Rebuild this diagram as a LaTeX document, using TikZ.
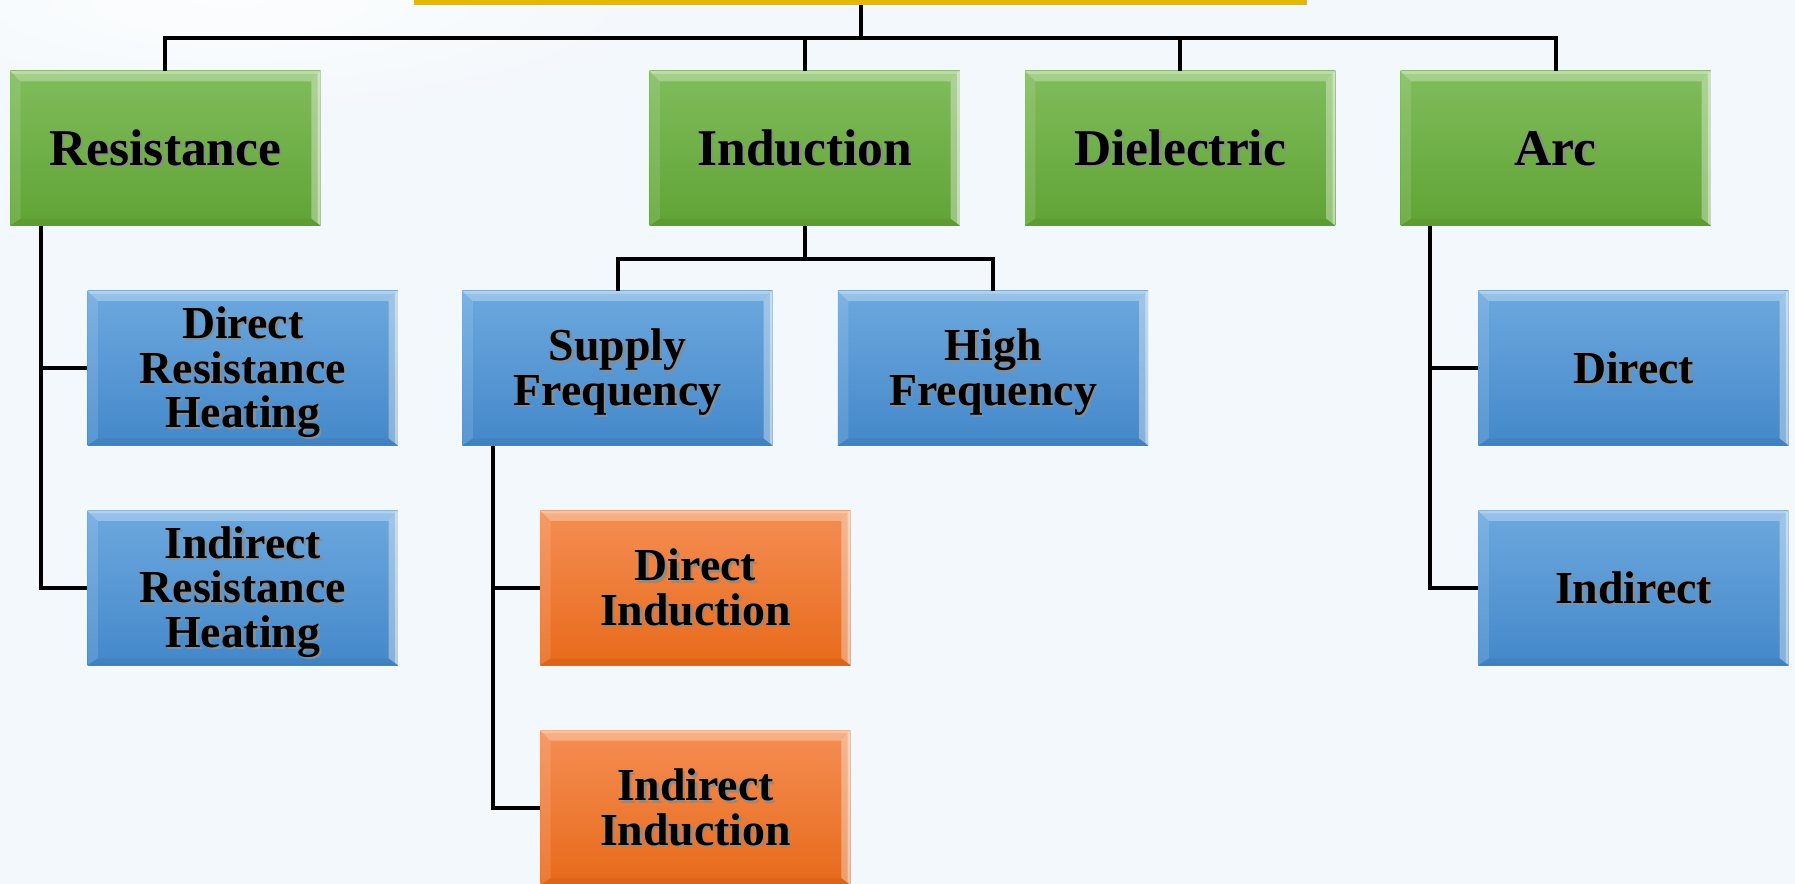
\documentclass[tikz,border=0pt]{standalone}
\usepackage{fontspec}
\setmainfont{Liberation Serif}
\usetikzlibrary{calc,shadings}
\definecolor{bgc}{RGB}{243,248,252}
\definecolor{gtop}{RGB}{128,188,92}
\definecolor{gbot}{RGB}{96,164,52}
\definecolor{btop}{RGB}{108,168,222}
\definecolor{bbot}{RGB}{68,136,202}
\definecolor{otop}{RGB}{244,142,84}
\definecolor{obot}{RGB}{232,106,26}
\definecolor{ycol}{RGB}{230,184,0}
\setlength{\lineskiplimit}{-100pt}
\newcommand\sh[1]{\leavevmode\rule[-0.25em]{0pt}{1.175em}\rlap{\kern2pt\raisebox{-2pt}{\textcolor{black!45}{#1}}}#1}
\tikzset{
  bevel/.style={path picture={
    \fill[white,opacity=0.3] (path picture bounding box.north west) -- (path picture bounding box.north east)
       -- ([shift={(-8pt,-9pt)}]path picture bounding box.north east) -- ([shift={(9pt,-9pt)}]path picture bounding box.north west) -- cycle;
    \fill[white,opacity=0.25] (path picture bounding box.north west) -- (path picture bounding box.north east)
       -- ([shift={(-2pt,-2.5pt)}]path picture bounding box.north east) -- ([shift={(2pt,-2.5pt)}]path picture bounding box.north west) -- cycle;
    \fill[white,opacity=0.12] (path picture bounding box.north west) -- ([shift={(9pt,-9pt)}]path picture bounding box.north west)
       -- ([shift={(9pt,6pt)}]path picture bounding box.south west) -- (path picture bounding box.south west) -- cycle;
    \fill[white,opacity=0.35] (path picture bounding box.north east) -- ([shift={(-8pt,-9pt)}]path picture bounding box.north east)
       -- ([shift={(-8pt,6pt)}]path picture bounding box.south east) -- (path picture bounding box.south east) -- cycle;
    \fill[white,opacity=0.4] (path picture bounding box.north east) -- ([shift={(-2.5pt,-2.5pt)}]path picture bounding box.north east)
       -- ([shift={(-2.5pt,2pt)}]path picture bounding box.south east) -- (path picture bounding box.south east) -- cycle;
    \fill[black,opacity=0.05] (path picture bounding box.south west) -- ([shift={(9pt,6pt)}]path picture bounding box.south west)
       -- ([shift={(-8pt,6pt)}]path picture bounding box.south east) -- (path picture bounding box.south east) -- cycle;
  }},
  boxbase/.style={rectangle, minimum width=271pt, minimum height=135pt, inner sep=0pt, align=center, text=black, bevel},
  gbox/.style={boxbase, top color=gtop, bottom color=gbot, font=\bfseries\fontsize{45}{47}\selectfont},
  bbox/.style={boxbase, top color=btop, bottom color=bbot, font=\bfseries\fontsize{40}{39}\selectfont},
  obox/.style={boxbase, top color=otop, bottom color=obot, font=\bfseries\fontsize{40}{39}\selectfont},
  conn/.style={line width=3.5pt, black},
}
\begin{document}
\begin{tikzpicture}[x=1pt,y=-1pt]
\useasboundingbox (0,0) rectangle (1568,772);
\fill[bgc] (0,0) rectangle (1568,772);
\shade[inner color=white, outer color=bgc, opacity=0.8] (200,0) ellipse [x radius=420pt, y radius=110pt];
\begin{scope}
\clip (0,0) rectangle (1568,772);
\node[rectangle, fill=ycol, minimum width=780pt, minimum height=100pt, inner sep=0pt] (top) at (752,-46) {};
\end{scope}
% level 1
\node[gbox] (res) at (144.5,129.5) {\sh{Resistance}};
\node[gbox] (ind) at (703,129.5) {\sh{Induction}};
\node[gbox] (die) at (1031,129.5) {\sh{Dielectric}};
\node[gbox] (arc) at (1359,129.5) {\sh{Arc}};
% level 2
\node[bbox] (drh) at (212,321.5) {\sh{Direct}\\\sh{Resistance}\\\sh{Heating}};
\node[bbox] (irh) at (212,513.5) {\sh{Indirect}\\\sh{Resistance}\\\sh{Heating}};
\node[bbox] (sup) at (539.5,321.5) {\sh{Supply}\\\sh{Frequency}};
\node[bbox] (hig) at (867.5,321.5) {\sh{High}\\\sh{Frequency}};
\node[bbox] (adir) at (1427,321.5) {\sh{Direct}};
\node[bbox] (aind) at (1427,513.5) {\sh{Indirect}};
\node[obox] (din) at (607.5,513.5) {\sh{Direct}\\\sh{Induction}};
\node[obox] (iin) at (607.5,705.5) {\sh{Indirect}\\\sh{Induction}};
% connectors
\coordinate (bus) at (752,33);
\draw[conn] (top.south) -- (bus);
\draw[conn] (res.north) |- (bus) -| (arc.north);
\draw[conn] (ind.north) -- (ind.north |- bus);
\draw[conn] (die.north) -- (die.north |- bus);
\coordinate (ibus) at (703,226);
\draw[conn] (ind.south) -- (ibus);
\draw[conn] (sup.north) |- (ibus) -| (hig.north);
\draw[conn] ($(res.south west)+(27,0)$) |- (drh.west);
\draw[conn] ($(res.south west)+(27,0)$) |- (irh.west);
\draw[conn] ($(sup.south west)+(27,0)$) |- (din.west);
\draw[conn] ($(sup.south west)+(27,0)$) |- (iin.west);
\draw[conn] ($(arc.south west)+(26,0)$) |- (adir.west);
\draw[conn] ($(arc.south west)+(26,0)$) |- (aind.west);
\end{tikzpicture}
\end{document}
